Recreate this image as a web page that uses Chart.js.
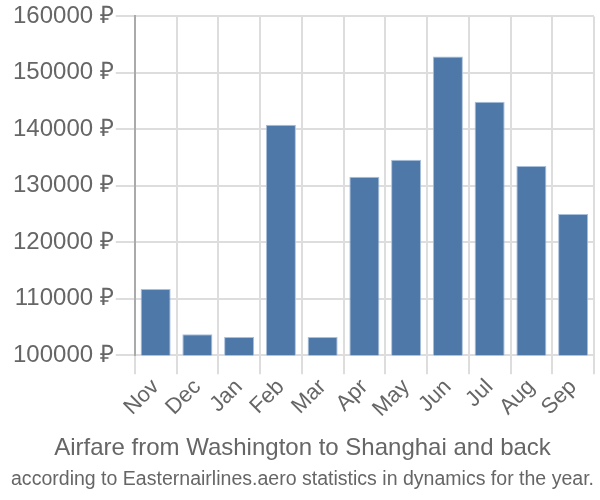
<!DOCTYPE html>
<html>
<head>
<meta charset="utf-8">
<script src="https://cdn.jsdelivr.net/npm/chart.js@4"></script>
<style>
  html, body { margin: 0; padding: 0; background: #fff; }
  #wrap { width: 600px; height: 500px; }
</style>
</head>
<body>
<div id="wrap"><canvas id="chart"></canvas></div>
<script>
const months = ['Nov', 'Dec', 'Jan', 'Feb', 'Mar', 'Apr', 'May', 'Jun', 'Jul', 'Aug', 'Sep'];
const prices = [111700, 103700, 103200, 140800, 103200, 131600, 134600, 152900, 144900, 133500, 125000];
const yTicks = [100000, 110000, 120000, 130000, 140000, 150000, 160000];
const titleText = 'Airfare from Washington to Shanghai and back';
const subtitleText = 'according to Easternairlines.aero statistics in dynamics for the year.';

const ctx = document.getElementById('chart').getContext('2d');
new Chart(ctx, {
  type: 'bar',
  data: {
    labels: months,
    datasets: [{
      data: prices,
      backgroundColor: '#4d78a8',
      borderColor: '#a9c0dc',
      borderWidth: 1,
      categoryPercentage: 1,
      barPercentage: 0.72,
    }],
  },
  options: {
    responsive: true,
    maintainAspectRatio: false,
    animation: false,
    layout: { padding: { top: 0, right: 6, left: 11, bottom: 3 } },
    plugins: {
      legend: { display: false },
      tooltip: { enabled: false },
      title: {
        display: true,
        position: 'bottom',
        weight: 1000,
        text: titleText,
        color: '#666',
        font: { family: 'Liberation Sans', size: 24, weight: 'normal' },
        padding: { top: 12, bottom: 0 },
      },
      subtitle: {
        display: true,
        position: 'bottom',
        weight: 2000,
        text: subtitleText,
        color: '#666',
        font: { family: 'Liberation Sans', size: 20, weight: 'normal' },
        padding: { top: 4, bottom: 6 },
      },
    },
    scales: {
      x: {
        grid: { offset: true, color: '#ddd', lineWidth: 2, tickLength: 19 },
        border: { display: false },
        ticks: {
          color: '#666',
          font: { family: 'Liberation Sans', size: 22 },
          autoSkip: false,
          maxRotation: 45,
          minRotation: 45,
          padding: 0,
        },
      },
      y: {
        min: 100000,
        max: 160000,
        afterBuildTicks: (axis) => { axis.ticks = yTicks.map((v) => ({ value: v })); },
        grid: { color: '#ddd', lineWidth: 2, tickLength: 19 },
        border: { color: '#aaa', width: 2 },
        ticks: {
          color: '#666',
          font: { family: 'Liberation Sans', size: 24 },
          padding: 2,
          callback: (v) => v + ' ₽',
        },
      },
    },
  },
});
</script>
</body>
</html>
